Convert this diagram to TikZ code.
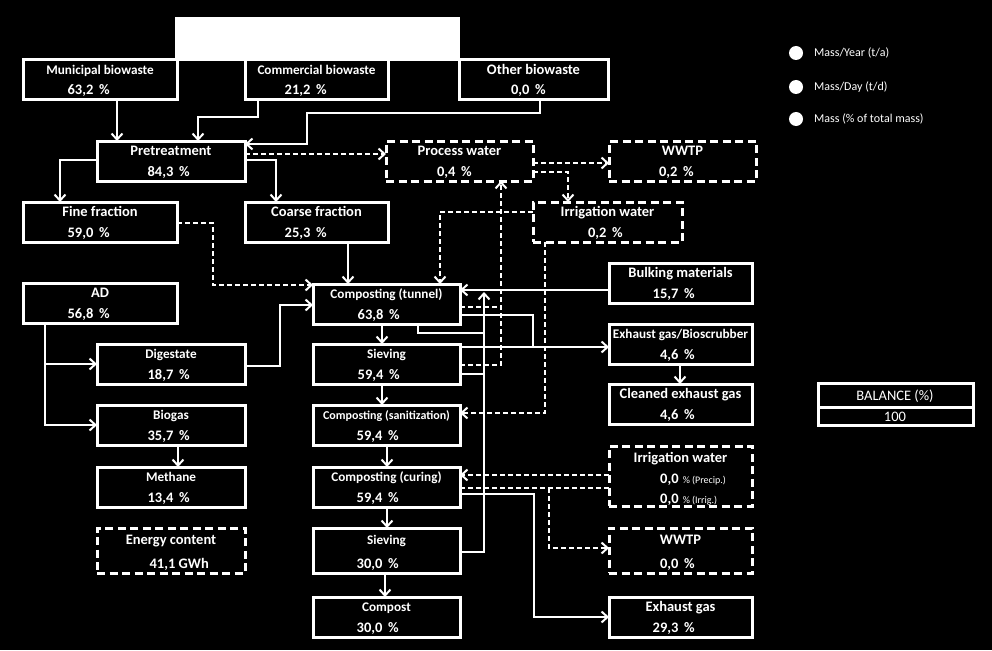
\documentclass[tikz,border=0pt]{standalone}
\usepackage{fontspec}
\setmainfont{Carlito}
\usetikzlibrary{arrows.meta,calc}
\newcommand\tl{\fontsize{13.2}{15}\selectfont\bfseries}
\newcommand\tL{\fontsize{14.5}{16}\selectfont\bfseries}
\newcommand\ts{\fontsize{12}{14}\selectfont\bfseries}
\newcommand\pc{\hspace{0.4em}\%}
\tikzset{
  bx/.style={draw=white, line width=3pt, anchor=north west, inner sep=0pt, outer sep=0pt, fill=black},
  dbx/.style={bx, dash pattern=on 8pt off 4.5pt},
  ttl/.style={text=white, anchor=base, inner sep=0pt},
  val/.style={text=white, anchor=base east, inner sep=0pt, font=\fontsize{14.5}{16}\selectfont\bfseries},
  con/.style={draw=white, line width=2pt, line join=miter},
  arr/.style={con, -{Straight Barb[length=6pt,width=11pt]}},
  dcon/.style={con, dash pattern=on 5pt off 3pt},
  darr/.style={arr, dash pattern=on 5pt off 3pt},
  leg/.style={text=white, anchor=west, inner sep=0pt, font=\fontsize{12}{14}\selectfont},
}
% name, style, x, y, w, h, title, value right x, value
\newcommand\BX[9]{%
  \node[#2, minimum width=#5pt, minimum height=#6pt] (#1) at (#3,#4) {};
  \node[ttl] (#1t) at ({#3+#5/2},{#4+14.5+(#6-40)*0.3}) {#7};
  \node[val] (#1v) at (#8,{#4+#6-5}) {#9};
}
\begin{document}
\begin{tikzpicture}[x=1pt,y=-1pt]
\fill[black] (0,0) rectangle (992,650);
\useasboundingbox (0,0) rectangle (992,650);
\fill[white] (175,17) rectangle (460,61);

\BX{mun}{bx}{23}{60}{154}{40}{\tl Municipal biowaste}{110}{63,2\pc}
\BX{com}{bx}{245}{60}{143}{40}{\tl Commercial biowaste}{327}{21,2\pc}
\BX{oth}{bx}{459}{60}{149}{40}{\tL Other biowaste}{546}{0,0\pc}
\BX{pre}{bx}{97}{141}{148}{40}{\tL Pretreatment}{190}{84,3\pc}
\BX{pw}{dbx}{386}{141}{147}{40}{\tL Process water}{472}{0,4\pc}
\BX{wwtpa}{dbx}{609}{141}{147}{40}{\tL WWTP}{694}{0,2\pc}
\BX{iwa}{dbx}{533}{202}{149}{40}{\tL Irrigation water}{623}{0,2\pc}
\BX{fine}{bx}{23}{202}{154}{40}{\tL Fine fraction}{110}{59,0\pc}
\BX{coarse}{bx}{245}{202}{143}{40}{\tL Coarse fraction}{327}{25,3\pc}
\BX{ad}{bx}{23}{283}{154}{40}{\tL AD}{110}{56,8\pc}
\BX{tun}{bx}{313}{284}{147}{40}{\tl Composting (tunnel)}{400}{63,8\pc}
\BX{dig}{bx}{97}{344}{148}{40}{\tl Digestate}{190}{18,7\pc}
\BX{siva}{bx}{313}{344}{147}{40}{\tl Sieving}{400}{59,4\pc}
\BX{bulk}{bx}{609}{263}{143}{40}{\tL Bulking materials}{695}{15,7\pc}
\BX{exbs}{bx}{609}{324}{143}{40}{\tl Exhaust gas/Bioscrubber}{695}{4,6\pc}
\BX{clean}{bx}{609}{384}{143}{40}{\tL Cleaned exhaust gas}{695}{4,6\pc}
\BX{san}{bx}{313}{405}{147}{40}{\ts Composting (sanitization)}{399}{59,4\pc}
\BX{bio}{bx}{97}{405}{148}{40}{\tl Biogas}{190}{35,7\pc}
\BX{meth}{bx}{97}{467}{148}{40}{\tl Methane}{190}{13,4\pc}
\BX{cur}{bx}{313}{467}{147}{40}{\tl Composting (curing)}{399}{59,4\pc}
\BX{sivb}{bx}{313}{528}{147}{45}{\tl Sieving}{399}{30,0\pc}
\BX{wwtpb}{dbx}{609}{528}{143}{45}{\tL WWTP}{695}{0,0\pc}
\BX{energy}{dbx}{97}{528}{148}{45}{\tL Energy content}{209}{41,1 GWh}
\BX{comp}{bx}{313}{597}{147}{40}{\tl Compost}{399}{30,0\pc}
\BX{exg}{bx}{609}{597}{143}{40}{\tL Exhaust gas}{695}{29,3\pc}

% irrigation water (curing)
\node[dbx, minimum width=143pt, minimum height=60pt] (iwb) at (609,446) {};
\node[ttl] (iwbt) at (680.5,462) {\tL Irrigation water};
\node[ttl, anchor=base west] (iwbv1) at (660,483) {\fontsize{14.5}{16}\selectfont\bfseries 0,0\hspace{0.3em}{\fontsize{10}{12}\selectfont\mdseries\%\hspace{0.2em}(Precip.)}};
\node[ttl, anchor=base west] (iwbv2) at (660,503) {\fontsize{14.5}{16}\selectfont\bfseries 0,0\hspace{0.3em}{\fontsize{10}{12}\selectfont\mdseries\%\hspace{0.2em}(Irrig.)}};

% balance
\node[bx, minimum width=155pt, minimum height=42pt] (bal) at (818,383) {};
\draw[white, line width=3pt] ($(bal.north west)+(0,24)$) -- ($(bal.north east)+(0,24)$);
\node[ttl] (balt) at (895,400) {\fontsize{14.5}{16}\selectfont BALANCE (\%)};
\node[ttl] (balv) at (895,421) {\fontsize{14.5}{16}\selectfont 100};

% legend
\foreach \n/\y/\t in {la/53/{Mass/Year (t/a)}, lb/87/{Mass/Day (t/d)}, lc/119/{Mass (\% of total mass)}}{
  \node[circle, fill=white, minimum size=14pt, inner sep=0pt] (\n) at (796,\y) {};
  \node[leg] (\n t) at (814,\y) {\t};
}

% connectors
\draw[arr] ($(mun.south west)+(94,0)$) -- ($(pre.north west)+(20,0)$);
\draw[arr] ($(com.south west)+(13,0)$) -- ++(0,17) -| ($(pre.north west)+(101,0)$);
\draw[arr] ($(oth.south west)+(81,0)$) -- ++(0,13) -| ($(pre.north east)+(62,3)$) -- ($(pre.north east)+(0,3)$);
\draw[darr] ($(pre.north east)+(0,13)$) -- ($(pw.north west)+(0,13)$);
\draw[arr] ($(pre.north west)+(0,19)$) -| ($(fine.north west)+(37,0)$);
\draw[arr] ($(pre.north east)+(0,19)$) -| ($(coarse.north west)+(31,0)$);
\draw[darr] ($(pw.north east)+(0,22)$) -- ($(wwtpa.north west)+(0,22)$);
\draw[darr] ($(pw.north east)+(0,31)$) -| ($(iwa.north west)+(35,0)$);
\draw[darr] ($(iwa.north west)+(0,10)$) -| ($(tun.north west)+(127,0)$);
\draw[darr] ($(siva.north east)+(0,21)$) -| ($(pw.south west)+(115,0)$);
\draw[dcon] ($(tun.north east)+(0,23)$) -- ++(41,0);
\draw[darr] ($(iwa.south west)+(12,0)$) |- ($(san.north east)+(0,8)$);
\draw[darr] ($(fine.north east)+(0,21)$) -- ++(36,0) |- ($(tun.north west)+(0,1)$);
\draw[arr] ($(coarse.south west)+(103,0)$) -- ($(tun.north west)+(35,0)$);
\draw[arr] ($(ad.south west)+(22,0)$) |- ($(bio.north west)+(0,20)$);
\draw[arr] ($(ad.south west)+(22,41)$) -- ($(dig.north west)+(0,20)$);
\draw[arr] ($(dig.north east)+(0,22)$) -- ++(35,0) |- ($(tun.north west)+(0,21)$);
\draw[arr] ($(bio.south west)+(81,0)$) -- ($(meth.north west)+(81,0)$);
\draw[arr] ($(tun.south west)+(69,0)$) -- ($(siva.north west)+(69,0)$);
\draw[arr] ($(siva.south west)+(69,0)$) -- ($(san.north west)+(69,0)$);
\draw[arr] ($(san.south west)+(74,0)$) -- ($(cur.north west)+(74,0)$);
\draw[arr] ($(cur.south west)+(74,0)$) -- ($(sivb.north west)+(74,0)$);
\draw[arr] ($(sivb.south west)+(72,0)$) -- ($(comp.north west)+(72,0)$);
\draw[arr] ($(bulk.north west)+(0,27)$) -- ($(tun.north east)+(0,6)$);
\draw[arr] ($(sivb.north east)+(0,24)$) -| ($(tun.north east)+(24,8)$);
\draw[con] ($(siva.north east)+(0,30)$) -- ++(24,0);
\draw[con] ($(tun.south west)+(105,0)$) |- ($(tun.south east)+(24,9)$);
\draw[arr] ($(tun.north east)+(0,31)$) -- ++(73,0) |- ($(exbs.north west)+(0,23)$);
\draw[con] ($(siva.north east)+(0,3)$) -- ($(exbs.north west)+(0,23)$);
\draw[arr] ($(exbs.south west)+(71,0)$) -- ($(clean.north west)+(71,0)$);
\draw[darr] ($(iwb.north west)+(0,29)$) -- ($(cur.north east)+(0,8)$);
\draw[dcon] ($(cur.north east)+(0,21)$) -- ($(iwb.north west)+(0,42)$);
\draw[darr] ($(cur.north east)+(89,21)$) |- ($(wwtpb.north west)+(0,20)$);
\draw[arr] ($(cur.north east)+(0,27)$) -- ++(74,0) |- ($(exg.north west)+(0,20)$);
\end{tikzpicture}
\end{document}
